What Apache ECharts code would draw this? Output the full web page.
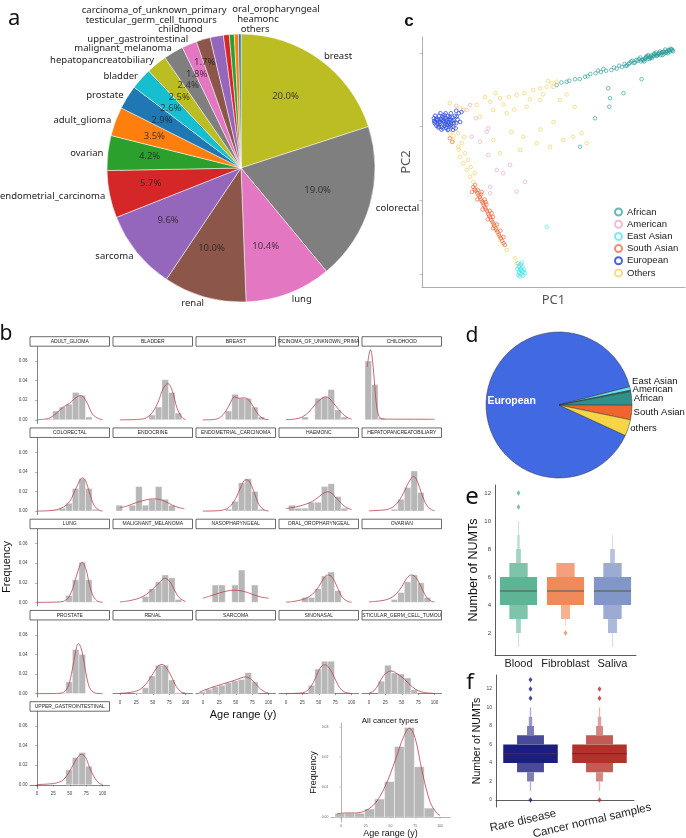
<!DOCTYPE html>
<html>
<head>
<meta charset="utf-8">
<script src="https://cdn.jsdelivr.net/npm/echarts@6/dist/echarts.min.js"></script>
<style>html,body{margin:0;padding:0;background:#fff}#main{width:686px;height:838px}</style>
</head>
<body>
<div id="main"></div>
<script>
// ---- panel a : cancer types ----
var cancerNames = ['breast', 'colorectal', 'lung', 'renal', 'sarcoma', 'endometrial_carcinoma', 'ovarian', 'adult_glioma',
    'prostate', 'bladder', 'hepatopancreatobiliary', 'malignant_melanoma', 'upper_gastrointestinal', 'childhood',
    'testicular_germ_cell_tumours', 'carcinoma_of_unknown_primary', 'oral_oropharyngeal', 'heamonc', 'others'];
var cancerPct = [20.0, 19.0, 10.4, 10.0, 9.6, 5.7, 4.2, 3.5, 2.9, 2.6, 2.5, 2.4, 1.8, 1.7, 1.6, 0.7, 0.6, 0.5, 0.3];

// ---- panel b : age histograms (bins of 10 y starting at -6) ----
var binStarts = [-6, 4, 14, 24, 34, 44, 54, 64, 74, 84, 94];
var facetNames = ['ADULT_GLIOMA', 'BLADDER', 'BREAST', 'RCINOMA_OF_UNKNOWN_PRIMA', 'CHILDHOOD',
    'COLORECTAL', 'ENDOCRINE', 'ENDOMETRIAL_CARCINOMA', 'HAEMONC', 'HEPATOPANCREATOBILIARY',
    'LUNG', 'MALIGNANT_MELANOMA', 'NASOPHARYNGEAL', 'ORAL_OROPHARYNGEAL', 'OVARIAN',
    'PROSTATE', 'RENAL', 'SARCOMA', 'SINONASAL', 'STICULAR_GERM_CELL_TUMOU',
    'UPPER_GASTROINTESTINAL'];
var facetHist = [
    [0, 0, 0.001, 0.009, 0.013, 0.016, 0.028, 0.025, 0.003, 0, 0],
    [0, 0, 0, 0, 0, 0.005, 0.013, 0.041, 0.028, 0.007, 0],
    [0, 0, 0, 0, 0.009, 0.026, 0.022, 0.022, 0.013, 0.003, 0],
    [0, 0, 0, 0.003, 0, 0.022, 0.0235, 0.031, 0.010, 0.003, 0],
    [0.060, 0.036, 0.002, 0, 0, 0, 0, 0, 0, 0, 0],
    [0, 0, 0, 0.001, 0.003, 0.008, 0.023, 0.033, 0.023, 0.002, 0],
    [0.006, 0, 0.006, 0.025, 0.006, 0.012, 0.025, 0.012, 0.006, 0, 0],
    [0, 0, 0, 0, 0.002, 0.010, 0.029, 0.033, 0.020, 0.002, 0],
    [0, 0.006, 0.003, 0.003, 0.009, 0.009, 0.025, 0.028, 0.015, 0.003, 0],
    [0, 0, 0, 0, 0.002, 0.012, 0.024, 0.041, 0.019, 0, 0],
    [0, 0, 0, 0, 0, 0.007, 0.023, 0.041, 0.023, 0.001, 0],
    [0, 0, 0, 0, 0.006, 0.014, 0.021, 0.028, 0.025, 0.003, 0],
    [0, 0, 0.0177, 0.0177, 0, 0.0177, 0.033, 0, 0.0177, 0, 0],
    [0, 0, 0, 0.005, 0.005, 0.014, 0.027, 0.031, 0.012, 0, 0],
    [0, 0, 0, 0, 0.003, 0.010, 0.021, 0.028, 0.020, 0.005, 0],
    [0, 0, 0, 0, 0.001, 0.012, 0.045, 0.040, 0, 0, 0],
    [0, 0, 0, 0.001, 0.006, 0.018, 0.029, 0.029, 0.014, 0.001, 0],
    [0.002, 0.0045, 0.007, 0.0085, 0.011, 0.013, 0.0145, 0.0214, 0.012, 0, 0],
    [0, 0, 0, 0, 0.0085, 0.025, 0.033, 0.033, 0, 0, 0],
    [0, 0, 0.0127, 0.029, 0.021, 0.020, 0.016, 0.004, 0, 0, 0],
    [0, 0, 0, 0, 0, 0.0153, 0.028, 0.033, 0.019, 0, 0]
];
var facetDensity = [
    [[0, 0.0002], [10, 0.0006], [20, 0.002], [30, 0.007], [40, 0.013], [50, 0.017], [60, 0.023], [67, 0.0247], [75, 0.019], [85, 0.0055], [95, 0.001], [100, 0.0003]],
    [[0, 0], [20, 0.0002], [30, 0.0006], [40, 0.002], [50, 0.008], [58, 0.018], [66, 0.032], [73, 0.037], [80, 0.029], [87, 0.012], [95, 0.002], [100, 0.0005]],
    [[0, 0], [15, 0.0003], [25, 0.002], [35, 0.009], [43, 0.019], [48, 0.0235], [55, 0.022], [63, 0.0225], [70, 0.02], [78, 0.012], [86, 0.004], [94, 0.0008], [100, 0.0002]],
    [[0, 0.0002], [15, 0.001], [25, 0.003], [35, 0.008], [45, 0.016], [55, 0.022], [60, 0.0235], [66, 0.022], [75, 0.015], [85, 0.007], [95, 0.0018], [100, 0.0008]],
    [[-2.5, 0.054], [0, 0.066], [2.5, 0.0715], [5, 0.064], [8, 0.042], [11, 0.018], [14, 0.006], [17, 0.002], [22, 0.0008], [50, 0.0007], [100, 0.0006]],
    [[0, 0], [20, 0.0005], [30, 0.0015], [40, 0.004], [50, 0.01], [58, 0.021], [65, 0.031], [69, 0.034], [74, 0.031], [80, 0.019], [87, 0.006], [95, 0.0008], [100, 0.0002]],
    [[0, 0.0035], [10, 0.005], [20, 0.0075], [30, 0.0097], [40, 0.0115], [50, 0.0125], [60, 0.012], [70, 0.0095], [80, 0.006], [90, 0.0035], [98, 0.0025]],
    [[0, 0], [20, 0.0003], [30, 0.001], [40, 0.004], [50, 0.013], [58, 0.025], [65, 0.032], [70, 0.031], [77, 0.021], [85, 0.007], [93, 0.0013], [100, 0.0002]],
    [[0, 0.0025], [10, 0.0037], [20, 0.005], [30, 0.007], [40, 0.0098], [50, 0.0145], [58, 0.0185], [64, 0.0197], [70, 0.018], [80, 0.011], [90, 0.0045], [100, 0.0015]],
    [[0, 0.0003], [20, 0.001], [30, 0.002], [40, 0.006], [50, 0.015], [58, 0.026], [64, 0.033], [68, 0.0355], [74, 0.03], [80, 0.018], [88, 0.006], [95, 0.0015], [100, 0.0005]],
    [[0, 0], [30, 0.0003], [40, 0.001], [48, 0.005], [55, 0.015], [62, 0.031], [69, 0.041], [75, 0.033], [80, 0.018], [86, 0.006], [93, 0.001], [100, 0.0002]],
    [[0, 0.0005], [10, 0.0012], [20, 0.0025], [30, 0.0045], [40, 0.008], [50, 0.0135], [60, 0.02], [68, 0.0245], [75, 0.022], [82, 0.014], [90, 0.005], [100, 0.0008]],
    [[0, 0.0043], [10, 0.0063], [20, 0.0085], [30, 0.0105], [40, 0.012], [48, 0.0123], [58, 0.0118], [68, 0.01], [78, 0.0075], [88, 0.0055], [100, 0.0042]],
    [[0, 0.0002], [10, 0.0008], [20, 0.002], [30, 0.004], [40, 0.008], [50, 0.016], [58, 0.025], [64, 0.028], [70, 0.026], [78, 0.016], [86, 0.005], [95, 0.0008], [100, 0.0002]],
    [[0, 0.0005], [10, 0.001], [20, 0.0018], [30, 0.0035], [40, 0.0075], [50, 0.016], [58, 0.025], [65, 0.028], [72, 0.025], [80, 0.015], [88, 0.005], [95, 0.0012], [100, 0.0005]],
    [[0, 0], [35, 0.0003], [42, 0.002], [48, 0.008], [54, 0.025], [59, 0.043], [63, 0.051], [67, 0.047], [72, 0.031], [77, 0.013], [82, 0.004], [90, 0.0004], [100, 0]],
    [[0, 0.0003], [10, 0.0008], [20, 0.0018], [30, 0.004], [40, 0.01], [50, 0.02], [58, 0.028], [64, 0.0297], [70, 0.027], [78, 0.018], [86, 0.007], [94, 0.0015], [100, 0.0005]],
    [[-5, 0.0015], [0, 0.003], [10, 0.0055], [20, 0.0078], [30, 0.0098], [40, 0.0118], [50, 0.014], [58, 0.016], [65, 0.017], [72, 0.0155], [80, 0.01], [88, 0.0045], [95, 0.0015], [100, 0.0008]],
    [[0, 0.0001], [20, 0.0005], [30, 0.002], [38, 0.007], [45, 0.016], [52, 0.026], [59, 0.0295], [65, 0.027], [72, 0.019], [80, 0.008], [88, 0.002], [100, 0.0002]],
    [[0, 0.0005], [8, 0.003], [15, 0.01], [22, 0.018], [30, 0.0225], [35, 0.023], [42, 0.0205], [50, 0.017], [58, 0.012], [66, 0.007], [75, 0.003], [85, 0.001], [100, 0.0002]],
    [[0, 0.0003], [20, 0.001], [30, 0.002], [40, 0.005], [50, 0.014], [58, 0.024], [65, 0.0305], [68, 0.031], [74, 0.028], [80, 0.018], [88, 0.007], [95, 0.0015], [100, 0.0005]]
];
var facetYTicks = [0, 0.02, 0.04, 0.06];
var ageTicks = [0, 25, 50, 75, 100];

var allHist = [0.0012, 0.0013, 0.0013, 0.0027, 0.006, 0.0118, 0.0234, 0.0297, 0.0167, 0.003, 0];
var allDensity = [[-4, 0.0011], [5, 0.0014], [15, 0.0014], [25, 0.0022], [35, 0.0048], [45, 0.0105], [55, 0.019], [63, 0.0265], [69, 0.0295], [75, 0.026], [82, 0.015], [90, 0.005], [97, 0.0012], [100, 0.0006]];
var allYTicks = [0, 0.01, 0.02, 0.03];

// ---- panel c : PCA ----
var pcaGroups = ['African', 'American', 'East Asian', 'South Asian', 'European', 'Others'];
var pcaAfrican = [[95, 95], [94, 94.6], [93, 94], [92.5, 95], [91, 93.5], [90, 93.2], [89, 93.8], [88, 92.5], [87, 92], [86, 92.8], [85, 91.5], [84, 91], [83, 91.8], [82, 90.5], [81, 89.8], [80, 90.5], [79, 89.5], [78, 88.6], [77, 89.2], [76, 88], [75, 88.5], [74, 87.3], [73, 87.8], [72, 86.8], [70, 86.5], [69, 87.2], [68, 86], [67, 86.6], [66, 85.5], [64, 85.2], [63, 84.3], [62, 84.1], [60, 83.2], [58.2, 83.1], [56, 82.5], [55, 82.1], [53, 81.8], [51.2, 80.8], [94.5, 95.3], [93.5, 93.5], [92, 94.2], [91.5, 92.8], [90.5, 94.2], [89.5, 92.6], [88.5, 93.4], [87.5, 91.6], [86.5, 91.2], [85.5, 92.3], [84.5, 90.2], [83.5, 90.8], [95.5, 94.3], [70.8, 79.5], [71.5, 75.5], [71.2, 72.1], [65.8, 67.5], [60.1, 56.1], [76.6, 77.5], [83.5, 83.1],
    [95.2, 94.6], [94.8, 95], [94.2, 94.2], [93.8, 94.8], [93.2, 94.4], [92.8, 93.7], [92.2, 93.4], [91.8, 94], [91.2, 93.9], [90.8, 92.7], [90.2, 93.6], [89.8, 93], [89.2, 92.4], [88.8, 92.9], [88.2, 93.2], [87.8, 92.3], [87.2, 92.6], [86.8, 91.7], [86.2, 92.1], [85.8, 91.1], [85.2, 92], [84.8, 91.4], [84.2, 90.6], [83.2, 90.2], [82.5, 91.2], [81.5, 90.8], [80.5, 89.6], [79.5, 90.2], [78.5, 89.3], [77.5, 88.4]];
var pcaAmerican = [[15.7, 70.8], [18.3, 72.8], [25.2, 63.5], [18.9, 60.1], [22, 58.1], [25.2, 52.8], [28.4, 46.8], [33.5, 48.8], [39.2, 42.1], [36, 38.1], [25.9, 40.1], [25.9, 37.5], [24.6, 62.1], [30.9, 45.5], [13, 72.5], [20.5, 67.5]];
var pcaEastAsian = [[36.5, 9.5], [37, 8.5], [37.5, 7.5], [38, 6.5], [36.8, 6], [37.8, 5], [38.5, 4.5], [37.2, 4.2], [36.2, 7.2], [38.8, 7], [39.2, 5.5], [37.6, 9], [36.8, 8], [38.2, 8.2], [37, 5.5], [38.5, 6], [37.4, 6.8], [36.6, 4.8], [38, 9.8], [47.4, 24.1]];
var pcaSouthAsian = [[19.5, 40], [20, 39], [20.5, 38.5], [21, 37.5], [21.5, 36.8], [22, 36], [22.3, 35], [22.8, 34.2], [23.2, 33.5], [23.5, 32.6], [24, 31.8], [24.3, 31], [24.8, 30.3], [25.2, 29.2], [25.5, 28.5], [26, 27.8], [26.3, 26.8], [26.8, 26], [27.2, 25.3], [27.5, 24.5], [28, 23.5], [28.3, 22.8], [28.7, 22], [29.2, 21], [29.5, 20.3], [30, 19.5], [30.5, 18.5], [31, 17.5], [31.5, 16.8], [21.2, 38.8], [22.5, 37], [23.8, 35], [24.5, 33], [25.8, 30.5], [27, 28], [28.5, 25], [29.8, 22.5], [31, 20], [19, 38], [21, 35], [23, 31], [25, 27], [27, 23.5], [20.2, 40.8], [22.7, 38], [24.2, 34], [26.5, 29.5], [10.6, 59.5], [11.5, 58]];
var pcaEuropean = [[5, 66], [6, 67], [7, 65.5], [8, 66.5], [9, 67.5], [10, 66], [11, 65], [12, 66.8], [6.5, 68.5], [8.5, 68.8], [10.5, 68], [5.5, 64.5], [7.5, 64], [9.5, 64.8], [11.5, 67.8], [13, 65.5], [4.5, 67.5], [6, 65], [8, 63.5], [10, 63], [12, 64], [13.5, 67], [7, 69.5], [9, 69.5], [11, 69.5], [5, 68.5], [4.8, 65.5], [6.8, 66.2], [8.8, 65.2], [10.8, 66.8], [12.5, 68.5], [14, 69.5], [13, 70.5], [15, 70], [7.2, 67.2], [9.2, 66.2], [11.2, 64.2], [8.2, 67.8], [10.2, 65.2], [6.2, 63.8], [12.8, 63.5], [14.5, 66], [11.8, 62.8], [9.8, 62.8],
    [5.8, 66.8], [6.6, 65.8], [7.6, 66.9], [8.4, 65.9], [9.6, 66.9], [10.4, 67.2], [11.6, 66.3], [5.4, 67.2], [7.8, 68.2], [9.8, 68.4], [6.4, 64.2], [8.6, 64.4], [10.6, 64.6], [12.2, 65.6], [7.4, 62.9], [9.2, 63.6], [4.6, 66.4], [13.2, 68.2]];
var pcaOthers = [[17, 70.8], [20.8, 72.8], [25.9, 74.1], [29.7, 75.5], [33, 76], [36, 76.8], [39, 77.5], [42.3, 78.8], [45, 79.5], [47.4, 80.1], [49.3, 81.5], [51.2, 82.1], [48, 82.5], [50, 80], [22, 68.1], [27.1, 70.8], [32.2, 69.5], [39.8, 72.1], [44.9, 74.8], [52.5, 74.8], [38.5, 60.1], [43.6, 57.5], [48.7, 56.1], [53.7, 58.8], [57.5, 60.1], [60.7, 61.5], [62.6, 57.5], [37.3, 54.8], [29.7, 53.5], [27.1, 58.8], [10.6, 61.5], [11.9, 58.8], [13.8, 56.1], [14.4, 52.1], [15.7, 49.5], [17, 46.8], [18.3, 44.1], [19.5, 42.1], [13.8, 61.5], [12.5, 64.1], [16.3, 53.5], [15.1, 57.5], [17.6, 50.8], [29.7, 18.8], [32.2, 14.8], [35.4, 11.5], [36, 9.5], [28.4, 24.1], [10.6, 73.5], [14.4, 71.5], [24, 76], [28, 77.5], [31, 73], [35, 71], [41, 75], [46, 77], [55, 77], [58, 72], [34, 62], [45, 63], [50, 66], [16, 60], [14, 55], [18.5, 48], [12, 60.5], [20, 45.5]];
var pc2Ticks = [5.2, 34.8, 64.4, 93.6];

// ---- panel d : ancestry ----
var ancestryNames = ['European', 'East Asian', 'American', 'African', 'South Asian', 'others'];
var ancestryPct = [89.1, 0.8, 0.3, 3.0, 3.2, 3.6];

// ---- panel e / f : NUMTs (letter-value boxes: [category, low, high, depth]) ----
var tissueNames = ['Blood', 'Fibroblast', 'Saliva'];
var tissueBoxes = [[0, 4, 6, 0], [0, 6, 7, 1], [0, 3, 4, 1], [0, 7, 8, 3], [0, 2, 3, 3], [0, 8, 9, 4], [0, 9, 10, 5], [0, 1, 2, 5],
    [1, 4, 6, 0], [1, 6, 7, 1], [1, 3, 4, 2], [1, 2.5, 3, 5],
    [2, 4, 6, 0], [2, 6, 7, 1], [2, 3, 4, 1], [2, 7, 8, 3], [2, 2, 3, 2], [2, 8, 9, 5], [2, 1, 2, 5]];
var tissueMedians = [[0, 5], [1, 5], [2, 5]];
var tissueOutliers = [[0, 11], [0, 12], [1, 2]];
var tissueTicks = [2, 4, 6, 8, 10, 12];

var cohortNames = ['Rare disease', 'Cancer normal samples'];
var cohortBoxes = [[0, 4, 6, 0], [0, 6, 7, 1], [0, 3, 4, 1], [0, 7, 8, 3], [0, 2, 3, 3], [0, 8, 9, 4], [0, 9, 10, 5], [0, 1, 2, 5],
    [1, 4, 6, 0], [1, 6, 7, 1], [1, 3, 4, 1], [1, 7, 8, 3], [1, 2, 3, 3], [1, 8, 9, 4], [1, 9, 10, 5], [1, 1, 2, 5]];
var cohortMedians = [[0, 5], [1, 5]];
var cohortOutliers = [[0, 0], [0, 11], [0, 12], [0, 13], [1, 0], [1, 11], [1, 12]];
var cohortTicks = [0, 2, 4, 6, 8, 10, 12];

// ---- style ----
var tab10 = ['#1f77b4', '#ff7f0e', '#2ca02c', '#d62728', '#9467bd', '#8c564b', '#e377c2', '#7f7f7f', '#bcbd22', '#17becf'];
var pcaColors = ['#249a96', '#e9a3bf', '#3fe3ea', '#e95a2c', '#3352de', '#efcd55'];
var ancestryColors = ['#4169e1', '#62e6ee', '#1f6f6a', '#2f9188', '#f0642e', '#f6d548'];
var tissueColors = ['#5db596', '#f08a5b', '#8296c8'];
var cohortColors = ['#1b1e7e', '#b3312b'];
var boxWidths = [0.79, 0.39, 0.19, 0.1, 0.05, 0.02];
var boxLighten = [0, 0.2, 0.33, 0.42, 0.55, 0.65];
var AXIS = '#333';
var PIE_A = { cx: 241, cy: 168, r: 134 };
var PIE_A_NAMES = { cx: 242, cy: 169, R: 139.4 };     // anchor circle of the category names
var PIE_A_PCT = { cx: 235, cy: 166, R: 86 };         // anchor circle of the percentages
var PIE_D = { cx: 559, cy: 405, r: 73, start: 335.3 };

function mix(hex, t) {     // blend towards white
    var n = parseInt(hex.slice(1), 16);
    var r = (n >> 16) & 255, g = (n >> 8) & 255, b = n & 255;
    r = Math.round(r + (255 - r) * t); g = Math.round(g + (255 - g) * t); b = Math.round(b + (255 - b) * t);
    return 'rgb(' + r + ',' + g + ',' + b + ')';
}

// label anchors at the middle angle of each slice (angles as echarts: deg, ccw from 3 o'clock, slices run clockwise)
function sliceAnchors(values, startDeg, cx, cy, R) {
    var total = values.reduce(function (a, b) { return a + b; }, 0), acc = 0;
    return values.map(function (v) {
        var th = (startDeg - (acc + v / 2) / total * 360) * Math.PI / 180;
        acc += v;
        return { x: cx + R * Math.cos(th), y: cy - R * Math.sin(th), th: th };
    });
}

var chart = echarts.init(document.getElementById('main'));
var grids = [], xAxes = [], yAxes = [], series = [], graphics = [];

function txt(x, y, s, font, opt) {
    opt = opt || {};
    graphics.push({
        type: 'text', x: x, y: y, rotation: opt.rot || 0, silent: true,
        style: { text: s, font: font, fill: opt.fill || '#111', align: opt.align || 'center', verticalAlign: 'middle' }
    });
}

function histRender(params, api) {
    var p0 = api.coord([api.value(0), api.value(2)]);
    var p1 = api.coord([api.value(0) + 10, 0]);
    return {
        type: 'rect', shape: { x: p0[0], y: p0[1], width: p1[0] - p0[0], height: p1[1] - p0[1] },
        style: { fill: '#b7b7b7', stroke: '#ffffff', lineWidth: 0.4 }
    };
}

function addHist(gi, hist, dens) {
    var data = [];
    hist.forEach(function (h, k) { if (h > 0) data.push([binStarts[k], 0, h]); });
    series.push({ type: 'custom', xAxisIndex: gi, yAxisIndex: gi, silent: true, clip: true, data: data, renderItem: histRender });
    series.push({
        type: 'line', xAxisIndex: gi, yAxisIndex: gi, silent: true, data: dens, smooth: 0.35, showSymbol: false,
        lineStyle: { color: '#b8434c', width: 0.8 }
    });
}

// ---- b : facet grid ----
var COL_X0 = 30, COL_STEP = 83, ROW_Y0 = 346.7, ROW_STEP = 91.25, PW = 79.5, PH = 76.7;
facetNames.forEach(function (name, i) {
    var col = i % 5, row = Math.floor(i / 5);
    var left = COL_X0 + col * COL_STEP, top = ROW_Y0 + row * ROW_STEP;
    var isLeft = col === 0;
    var isBottom = (row === 3 && col > 0) || row === 4;
    var gi = grids.length;
    grids.push({ left: left, top: top, width: PW, height: PH, containLabel: false, outerBoundsMode: 'none' });
    xAxes.push({
        gridIndex: gi, type: 'value', min: -10.5, max: 110.5, show: isBottom, splitLine: { show: false },
        axisLine: { lineStyle: { color: AXIS, width: 0.6 } },
        axisTick: { customValues: ageTicks, length: 1.5, lineStyle: { color: AXIS, width: 0.5 } },
        axisLabel: { customValues: ageTicks, fontSize: 4.5, color: '#444', margin: 3 }
    });
    yAxes.push({
        gridIndex: gi, type: 'value', min: -0.0036, max: 0.0746, show: isLeft, splitLine: { show: false },
        axisLine: { show: true, lineStyle: { color: AXIS, width: 0.6 } },
        axisTick: { customValues: facetYTicks, length: 1.5, lineStyle: { color: AXIS, width: 0.5 } },
        axisLabel: { customValues: facetYTicks, fontSize: 4.5, color: '#444', margin: 2.5, formatter: function (v) { return v.toFixed(2); } }
    });
    addHist(gi, facetHist[i], facetDensity[i]);
    graphics.push({
        type: 'rect', silent: true, shape: { x: left, y: top - 10, width: PW, height: 9.5 },
        style: { fill: '#fff', stroke: '#444', lineWidth: 0.8 }
    });
    txt(left + PW / 2, top - 5.2, name, '5px "Liberation Sans"', { fill: '#222' });
});
txt(7, 567, 'Frequency', '11px "Liberation Sans"', { rot: Math.PI / 2 });
txt(243, 715, 'Age range (y)', '11px "Liberation Sans"');

// inset : all cancer types
(function () {
    var gi = grids.length;
    grids.push({ left: 331, top: 723, width: 119, height: 99, containLabel: false, outerBoundsMode: 'none' });
    xAxes.push({
        gridIndex: gi, type: 'value', min: -10, max: 110, splitLine: { show: false },
        name: 'Age range (y)', nameLocation: 'middle', nameGap: 5, nameTextStyle: { fontSize: 9, color: '#111' },
        axisLine: { lineStyle: { color: '#666', width: 0.5 } },
        axisTick: { customValues: ageTicks, length: 1.5, lineStyle: { color: '#666', width: 0.4 } },
        axisLabel: { customValues: ageTicks, fontSize: 3.5, color: '#666', margin: 2.5 }
    });
    yAxes.push({
        gridIndex: gi, type: 'value', min: -0.0016, max: 0.0312, splitLine: { show: false },
        name: 'Frequency', nameLocation: 'middle', nameGap: 12, nameTextStyle: { fontSize: 9, color: '#111' },
        axisLine: { show: true, lineStyle: { color: '#666', width: 0.5 } },
        axisTick: { customValues: allYTicks, length: 1.5, lineStyle: { color: '#666', width: 0.4 } },
        axisLabel: { customValues: allYTicks, fontSize: 3.5, color: '#666', margin: 2.5, formatter: function (v) { return v.toFixed(2); } }
    });
    addHist(gi, allHist, allDensity);
    txt(390, 721, 'All cancer types', '8px "Liberation Sans"');
})();

// ---- c : PCA scatter ----
(function () {
    var gi = grids.length;
    grids.push({ left: 422, top: 37, width: 263, height: 250, containLabel: false, outerBoundsMode: 'none' });
    xAxes.push({
        gridIndex: gi, type: 'value', min: 0, max: 100, splitLine: { show: false },
        name: 'PC1', nameLocation: 'middle', nameGap: 7, nameTextStyle: { fontSize: 13, color: '#555', fontFamily: 'Noto Sans' },
        axisLine: { lineStyle: { color: '#999', width: 0.8 } }, axisTick: { show: false }, axisLabel: { show: false }
    });
    yAxes.push({
        gridIndex: gi, type: 'value', min: 0, max: 100, splitLine: { show: false },
        name: 'PC2', nameLocation: 'middle', nameGap: 9, nameTextStyle: { fontSize: 13, color: '#555', fontFamily: 'Noto Sans' },
        axisLine: { show: true, lineStyle: { color: '#999', width: 0.8 } },
        axisTick: { customValues: pc2Ticks, length: 2.5, lineStyle: { color: '#999', width: 0.6 } },
        axisLabel: { show: false }
    });
    var groups = [pcaAfrican, pcaAmerican, pcaEastAsian, pcaSouthAsian, pcaEuropean, pcaOthers];
    var order = [5, 1, 0, 3, 2, 4];     // drawing order, European on top
    order.forEach(function (k) {
        series.push({
            type: 'scatter', name: pcaGroups[k], xAxisIndex: gi, yAxisIndex: gi, data: groups[k], symbol: 'circle', symbolSize: 3.6,
            silent: true, z: 2 + k,
            itemStyle: { color: 'rgba(255,255,255,0)', borderColor: pcaColors[k], borderWidth: 0.9, opacity: k === 4 ? 0.9 : 0.7 }
        });
    });
})();
txt(409, 21, 'c', 'bold 17px "Liberation Sans"');

// ---- a : cancer pie ----
var pieA = cancerNames.map(function (n, i) {
    return { name: n, value: cancerPct[i], itemStyle: { color: tab10[(18 - i) % 10] } };
});
var nA = cancerNames.length;
var pieALabels = sliceAnchors(cancerPct, 90, PIE_A_NAMES.cx, PIE_A_NAMES.cy, PIE_A_NAMES.R).map(function (p) {
    var a = Math.PI / 2 - p.th;            // angle from 12 o'clock, clockwise
    p.align = (a < Math.PI || a > 2 * Math.PI * 0.985) ? 'left' : 'right';
    return p;
});
// stack the crowded upper-left labels so they do not overlap
for (var i = 6; i < nA - 3; i++) pieALabels[i].y = Math.min(pieALabels[i].y, pieALabels[i - 1].y - 9.5);
// the thinnest slices at the top: labels stacked upward
for (var i = nA - 2; i >= nA - 3; i--) pieALabels[i].y = Math.min(pieALabels[i].y, pieALabels[i + 1].y - 10);

// percentages: mid-angle anchors; the thin upper-left ones are pushed outward along their slice
var pctLabels = sliceAnchors(cancerPct, 90, PIE_A_PCT.cx, PIE_A_PCT.cy, PIE_A_PCT.R);
for (var i = 6; i < 14; i++) {
    var minY = pctLabels[i - 1].y - 11.5, L = pctLabels[i];
    if (L.y > minY) {
        var R = (PIE_A_PCT.cy - minY) / Math.sin(L.th);
        L.x = PIE_A_PCT.cx + R * Math.cos(L.th);
        L.y = minY;
    }
}

series.push({
    type: 'pie', center: [PIE_A.cx, PIE_A.cy], radius: [0, PIE_A.r], startAngle: 90, clockwise: true, silent: true,
    data: pieA, avoidLabelOverlap: false,
    itemStyle: { borderColor: '#fff', borderWidth: 0.5 },
    label: { show: true, position: 'outside', fontSize: 9.5, fontFamily: 'Noto Sans', color: '#222', overflow: 'none' },
    labelLine: { show: false, length: 6, length2: 0 },
    labelLayout: function (p) {
        var L = pieALabels[p.dataIndex];
        return { x: L.x, y: L.y, align: L.align, verticalAlign: 'middle' };
    }
});
var pctMid = [], accA = 0;
cancerPct.forEach(function (v) { pctMid.push(accA + v / 2); accA += v; });
series.push({
    type: 'scatter', coordinateSystem: 'polar', polarIndex: 0, silent: true, symbolSize: 1,
    itemStyle: { color: 'rgba(0,0,0,0)' },
    data: cancerPct.map(function (v, i) { return [86, pctMid[i], v]; }).filter(function (d) { return d[2] >= 1.7; }),
    label: {
        show: true, position: 'inside', fontSize: 9.5, fontFamily: 'Noto Sans', color: '#222',
        formatter: function (p) { return p.value[2].toFixed(1) + '%'; }
    },
    labelLayout: function (p) {
        var L = pctLabels[p.dataIndex];
        return { x: L.x, y: L.y, align: 'center', verticalAlign: 'middle', hideOverlap: false };
    }
});
txt(8, 19, 'a', '22px "Noto Sans"', { align: 'left' });

// ---- d : ancestry pie ----
var pieDLabels = sliceAnchors(ancestryPct, PIE_D.start, PIE_D.cx, PIE_D.cy, PIE_D.r + 2);
for (var i = 2; i >= 1; i--) pieDLabels[i].y = Math.min(pieDLabels[i].y, pieDLabels[i + 1].y - 8.5);
series.push({
    type: 'pie', center: [PIE_D.cx, PIE_D.cy], radius: [0, PIE_D.r], startAngle: PIE_D.start, clockwise: true, silent: true,
    avoidLabelOverlap: false,
    data: ancestryNames.map(function (n, i) {
        var d = { name: n, value: ancestryPct[i], itemStyle: { color: ancestryColors[i] } };
        if (i === 0) d.label = { position: 'inside', color: '#fff', fontWeight: 'bold', fontSize: 10.5 };
        return d;
    }),
    itemStyle: { borderColor: '#333', borderWidth: 0.5 },
    label: { show: true, position: 'outside', fontSize: 9.5, color: '#111', overflow: 'none' },
    labelLine: { show: false, length: 2, length2: 0 },
    labelLayout: function (p) {
        if (p.dataIndex === 0) return { dx: -8 };
        var L = pieDLabels[p.dataIndex];
        return { x: L.x, y: L.y, align: 'left', verticalAlign: 'middle' };
    }
});
txt(472, 336, 'd', '21px "Noto Sans"');

// ---- e / f : letter-value plots ----
function boxenPanel(opt) {
    var gi = grids.length;
    grids.push({ left: opt.left, top: opt.top, width: opt.width, height: opt.height, containLabel: false, outerBoundsMode: 'none' });
    xAxes.push({
        gridIndex: gi, type: 'category', data: opt.cats,
        axisLine: { lineStyle: { color: AXIS, width: 0.8 } },
        axisTick: { show: false },
        axisLabel: opt.xLabel
    });
    yAxes.push({
        gridIndex: gi, type: 'value', min: opt.min, max: opt.max, splitLine: { show: false },
        name: 'Number of NUMTs', nameLocation: 'middle', nameGap: opt.nameGap, nameTextStyle: { fontSize: opt.nameFont, color: '#111' },
        axisLine: { show: true, lineStyle: { color: AXIS, width: 0.8 } },
        axisTick: { customValues: opt.ticks, length: 2.5, lineStyle: { color: AXIS, width: 0.6 } },
        axisLabel: { customValues: opt.ticks, fontSize: opt.tickFont, color: '#444', margin: 4 }
    });
    series.push({
        type: 'custom', xAxisIndex: gi, yAxisIndex: gi, silent: true, data: opt.boxes,
        renderItem: function (params, api) {
            var c = api.value(0), lv = api.value(3);
            var w = api.size([1, 0])[0] * boxWidths[lv];
            var pHi = api.coord([c, api.value(2)]), pLo = api.coord([c, api.value(1)]);
            return {
                type: 'rect', shape: { x: pHi[0] - w / 2, y: pHi[1], width: w, height: pLo[1] - pHi[1] },
                style: { fill: mix(opt.colors[c], boxLighten[lv]) }
            };
        }
    });
    series.push({
        type: 'custom', xAxisIndex: gi, yAxisIndex: gi, silent: true, data: opt.medians, z: 3,
        renderItem: function (params, api) {
            var c = api.value(0);
            var w = api.size([1, 0])[0] * boxWidths[0];
            var p = api.coord([c, api.value(1)]);
            return {
                type: 'line', shape: { x1: p[0] - w / 2, y1: p[1], x2: p[0] + w / 2, y2: p[1] },
                style: { stroke: opt.medianColor, lineWidth: 1 }
            };
        }
    });
    series.push({
        type: 'scatter', xAxisIndex: gi, yAxisIndex: gi, silent: true, data: opt.outliers, symbol: 'diamond', symbolSize: [4, 5.5],
        itemStyle: { color: function (p) { return opt.colors[p.value[0]]; } }
    });
}
boxenPanel({
    left: 495, top: 485, width: 141, height: 170, min: 0.43, max: 12.57, cats: tissueNames, boxes: tissueBoxes,
    medians: tissueMedians, outliers: tissueOutliers, ticks: tissueTicks, colors: tissueColors, medianColor: '#4d5a55',
    nameGap: 8, nameFont: 12.5, tickFont: 6,
    xLabel: { fontSize: 11, color: '#222', margin: 3, interval: 0 }
});
boxenPanel({
    left: 496, top: 675, width: 138, height: 132, min: -0.757, max: 13.51, cats: cohortNames, boxes: cohortBoxes,
    medians: cohortMedians, outliers: cohortOutliers, ticks: cohortTicks, colors: cohortColors, medianColor: '#7a1f1a',
    nameGap: 10, nameFont: 10.5, tickFont: 5,
    xLabel: { fontSize: 11.5, color: '#222', margin: 6, rotate: 13, align: 'center', verticalAlign: 'top', interval: 0, padding: [0, 18, 0, 0] }
});
txt(472, 497, 'e', '24px "Noto Sans"');
txt(470, 683, 'f', '22px "Noto Sans"');
txt(6, 334, 'b', '21px "Noto Sans"');

chart.setOption({
    animation: false,
    textStyle: { fontFamily: 'Liberation Sans' },
    grid: grids, xAxis: xAxes, yAxis: yAxes, series: series,
    polar: [{ center: [PIE_A_PCT.cx, PIE_A_PCT.cy], radius: PIE_A.r }],
    angleAxis: [{ polarIndex: 0, type: 'value', min: 0, max: 100, startAngle: 90, clockwise: true, show: false }],
    radiusAxis: [{ polarIndex: 0, type: 'value', min: 0, max: PIE_A.r, show: false }],
    legend: {
        data: pcaGroups, orient: 'vertical', left: 614, top: 207, padding: 0, itemWidth: 7, itemHeight: 7, itemGap: 2.2,
        icon: 'circle', textStyle: { fontSize: 9.5, color: '#222' }, selectedMode: false
    },
    graphic: { elements: graphics }
});
</script>
</body>
</html>
